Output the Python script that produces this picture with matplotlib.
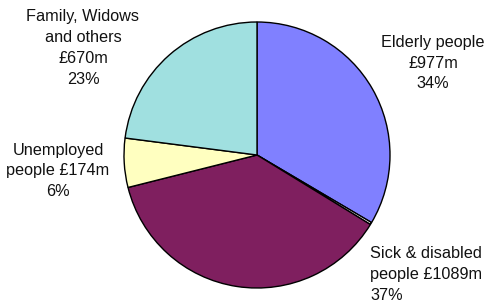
import matplotlib.pyplot as plt

# spending by group, £m (clockwise from the top)
groups = ["Elderly people", "Other", "Sick & disabled people", "Unemployed people", "Family, Widows and others"]
spend = [977, 8, 1089, 174, 670]
shares = ["34%", "", "37%", "6%", "23%"]
colours = ["#8080FF", "#FFFFFF", "#7F1F5F", "#FFFFC0", "#A0E0E0"]

plt.rcParams['font.family'] = ['Liberation Sans', 'DejaVu Sans']

fig = plt.figure(figsize=(4.87, 3.04), dpi=100)
W, H = 487, 304
cx, cy, r = 257, 155, 133
ax = fig.add_axes([(cx - r) / W, (H - cy - r) / H, 2 * r / W, 2 * r / H])

ax.pie(spend, colors=colours, startangle=90, counterclock=False, radius=1,
       wedgeprops=dict(edgecolor='black', linewidth=1))
ax.set_xlim(-1, 1)
ax.set_ylim(-1, 1)
ax.set_aspect('equal')
ax.axis('off')


def px(x, y):
    return x / W, 1 - y / H


fs = 11.7
ls = 1.5
fig.text(*px(433, 63), "Elderly people\n£%dm\n%s" % (spend[0], shares[0]),
         ha='center', va='center', fontsize=fs, linespacing=ls, color='#111111')
fig.text(*px(370, 275), "Sick & disabled\npeople £%dm\n%s" % (spend[2], shares[2]),
         ha='left', va='center', fontsize=fs, linespacing=ls, color='#111111')
fig.text(*px(58, 171), "Unemployed\npeople £%dm\n%s" % (spend[3], shares[3]),
         ha='center', va='center', fontsize=fs, linespacing=ls, color='#111111')
fig.text(*px(83, 48), "Family, Widows\nand others\n£%dm\n%s" % (spend[4], shares[4]),
         ha='center', va='center', fontsize=fs, linespacing=ls, color='#111111')

fig.savefig('out.png', dpi=100)
